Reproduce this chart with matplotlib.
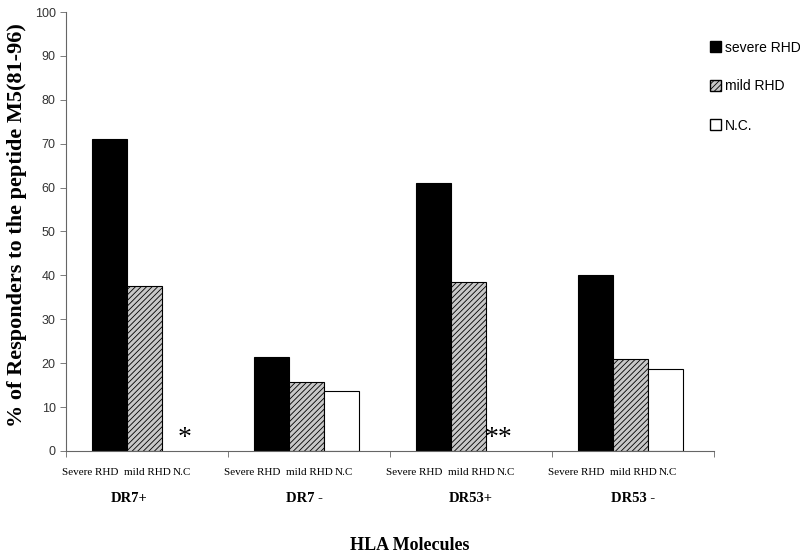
import matplotlib
matplotlib.use("Agg")
import matplotlib.pyplot as plt
from matplotlib.patches import Patch
import numpy as np

groups = ["DR7+", "DR7 -", "DR53+", "DR53 -"]
series = ["severe RHD", "mild RHD", "N.C."]
sub_labels = ["Severe RHD", "mild RHD", "N.C"]
severe = [71, 21.3, 61, 40]
mild = [37.5, 15.7, 38.5, 21]
nc = [0, 13.6, 0, 18.7]
asterisks = ["*", "", "**", ""]

plt.rcParams['hatch.linewidth'] = 0.6
serif = "Liberation Serif"
sans = "Liberation Sans"

fig = plt.figure(figsize=(8, 5.56), dpi=100)
ax = fig.add_axes([0.0825, 0.1889, 0.81, 0.7895])

x = np.arange(len(groups))
w = 0.216
offs = [-0.231, -0.015, 0.2]
ax.bar(x + offs[0], severe, w, color="black", edgecolor="black", linewidth=0.8)
ax.bar(x + offs[1], mild, w, color="#c8c8c8", edgecolor="black", hatch="//////", linewidth=0.8)
for xi, v in zip(x, nc):
    if v > 0:
        ax.bar(xi + offs[2], v, w, color="white", edgecolor="black", linewidth=0.8)

for xi, a in zip(x, asterisks):
    if a:
        ax.text(xi + (0.235 if len(a) == 1 else 0.17), 0.0, a, ha="center", va="bottom",
                fontsize=20, family=serif)

ax.set_xlim(-0.5, 3.5)
ax.set_ylim(0, 100)
ax.set_yticks(np.arange(0, 101, 10))
ax.set_xticks(np.arange(-0.5, 3.6, 1))
ax.set_xticklabels([])
ax.tick_params(axis="y", direction="out", length=4, width=0.6, color="#666666", labelsize=9, labelcolor="#333333")
ax.tick_params(axis="x", direction="out", length=4, width=0.6, color="#666666")
for lab in ax.get_yticklabels():
    lab.set_family(sans)
for s in ["top", "right"]:
    ax.spines[s].set_visible(False)
for s in ["left", "bottom"]:
    ax.spines[s].set_color("#666666")
    ax.spines[s].set_linewidth(0.8)

sub_offs = [-0.349, 0.0, 0.216]
grp_offs = [-0.11, -0.03, 0.0, 0.0]
for xi in x:
    for so, sl in zip(sub_offs, sub_labels):
        ax.text(xi + so, -4.8, sl, ha="center", va="center", fontsize=8, family=serif)
    ax.text(xi + grp_offs[xi], -10.9, groups[xi], ha="center", va="center", fontsize=10.5,
            family=serif, fontweight="bold")

fig.text(410 / 800, 1 - 545 / 556, "HLA Molecules", ha="center", va="center",
         fontsize=13, family=serif, fontweight="bold")
fig.text(17 / 800, 1 - 225 / 556, "% of Responders to the peptide M5(81-96)", ha="center",
         va="center", rotation=90, fontsize=16, family=serif, fontweight="bold")

handles = [Patch(facecolor="black", edgecolor="black"),
           Patch(facecolor="#c8c8c8", edgecolor="black", hatch="//////"),
           Patch(facecolor="white", edgecolor="black")]
fig.legend(handles, series, loc="upper left", bbox_to_anchor=(697 / 800, 1 - 28 / 556),
           frameon=False, handlelength=0.8, handleheight=0.8, handletextpad=0.3,
           labelspacing=1.8, prop={"family": sans, "size": 10})

fig.savefig("out.png", dpi=100)
